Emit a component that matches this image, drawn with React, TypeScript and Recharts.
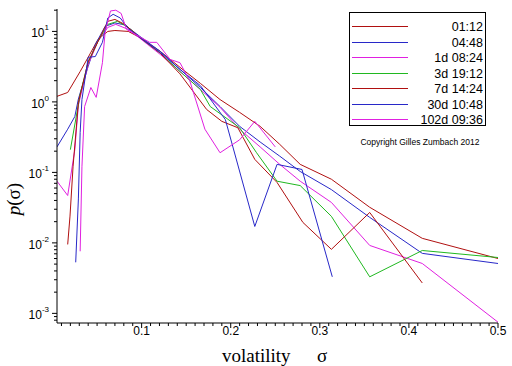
import React from "react";
import { LineChart, Line, XAxis, YAxis } from "recharts";

// Sampling horizons shown in the legend, top to bottom.
const SERIES_NAMES = ["01:12", "04:48", "1d 08:24", "3d 19:12", "7d 14:24", "30d 10:48", "102d 09:36"];
const SERIES_COLORS = ["#b01010", "#2828c8", "#e020e0", "#20b820", "#b01010", "#2828c8", "#e020e0"];

// volatility (x) and density p(sigma) (y)
const sig0112 = [0.005, 0.017, 0.031, 0.04, 0.051, 0.062, 0.07, 0.085, 0.098, 0.121, 0.143, 0.166, 0.188, 0.21, 0.233, 0.255, 0.278, 0.313, 0.356, 0.415, 0.5];
const p0112 = [1.2, 1.36, 2.7, 4.3, 7.7, 10, 10.3, 10, 8.2, 5.2, 3.1, 1.83, 1.08, 0.71, 0.45, 0.25, 0.13, 0.08, 0.032, 0.0116, 0.006];

const sig0448 = [0.005, 0.017, 0.025, 0.029, 0.04, 0.048, 0.059, 0.07, 0.081, 0.098, 0.121, 0.143, 0.166, 0.188, 0.21, 0.233, 0.255, 0.278, 0.313, 0.356, 0.415, 0.5];
const p0448 = [0.23, 0.41, 0.62, 1.1, 3.2, 6.5, 11.8, 13.2, 12.4, 8.5, 5.2, 2.9, 1.6, 0.86, 0.45, 0.27, 0.17, 0.103, 0.057, 0.023, 0.0071, 0.0051];

const sig1d = [0.005, 0.017, 0.025, 0.029, 0.04, 0.051, 0.062, 0.071, 0.085, 0.098, 0.121, 0.143, 0.166, 0.188, 0.21, 0.233, 0.255, 0.278, 0.313, 0.356, 0.415, 0.5];
const p1d = [0.075, 0.047, 0.21, 0.9, 3.4, 7.2, 11.4, 12.6, 10.7, 8.0, 4.7, 2.7, 1.5, 0.84, 0.41, 0.23, 0.13, 0.075, 0.0375, 0.0092, 0.0051, 0.00075];

const sig3d = [0.02, 0.031, 0.04, 0.051, 0.062, 0.073, 0.085, 0.098, 0.121, 0.143, 0.166, 0.177, 0.21, 0.229, 0.252, 0.278, 0.313, 0.356, 0.415, 0.5];
const p3d = [0.21, 1.28, 3.7, 7.2, 12.6, 13.9, 11.4, 8.2, 4.9, 2.7, 1.5, 0.86, 0.43, 0.19, 0.075, 0.065, 0.0238, 0.0033, 0.0078, 0.0062];

const sig7d = [0.017, 0.0196, 0.023, 0.029, 0.04, 0.051, 0.062, 0.07, 0.081, 0.098, 0.121, 0.143, 0.173, 0.19, 0.208, 0.227, 0.252, 0.281, 0.313, 0.356, 0.415];
const p7d = [0.0095, 0.024, 0.12, 0.98, 3.7, 7.2, 13.9, 14.8, 12.6, 8.2, 4.9, 2.5, 0.78, 0.53, 0.43, 0.153, 0.072, 0.0195, 0.0081, 0.027, 0.0027];

const sig30d = [0.026, 0.029, 0.031, 0.033, 0.04, 0.048, 0.056, 0.062, 0.068, 0.076, 0.085, 0.098, 0.121, 0.143, 0.166, 0.194, 0.227, 0.252, 0.28, 0.314];
const p30d = [0.0053, 0.042, 0.37, 1.08, 4.3, 4.4, 7.0, 15.5, 17.5, 15.5, 11, 8.2, 5.0, 2.9, 1.7, 0.56, 0.0171, 0.13, 0.11, 0.0033];

const sig102d = [0.031, 0.033, 0.036, 0.043, 0.049, 0.056, 0.059, 0.065, 0.071, 0.077, 0.083, 0.109, 0.117, 0.132, 0.143, 0.154, 0.171, 0.188, 0.21, 0.227, 0.25];
const p102d = [0.0076, 0.12, 0.86, 1.6, 1.16, 3.6, 9.7, 19.5, 20, 18, 10.7, 7.0, 7.0, 4.0, 3.6, 2.0, 0.41, 0.19, 0.29, 0.53, 0.23];

// axis ticks
const X_MAJOR = [0.1, 0.2, 0.3, 0.4, 0.5];
const Y_DECADES = [-4, -3, -2, -1, 0, 1];

const X_DOMAIN: [number, number] = [0.005, 0.5];
const Y_DOMAIN: [number, number] = [0.00073, 20.8];

const SIGS = [sig0112, sig0448, sig1d, sig3d, sig7d, sig30d, sig102d];
const PS = [p0112, p0448, p1d, p3d, p7d, p30d, p102d];

const series = SERIES_NAMES.map((name, k) => ({
  name,
  color: SERIES_COLORS[k],
  data: SIGS[k].map((s, i) => ({ s, p: PS[k][i] })),
}));

const xTicks: number[] = [];
for (let i = 1; i <= 50; i++) xTicks.push(i / 100);

const yTicks: number[] = [];
Y_DECADES.forEach((d) => {
  for (let m = 1; m <= 9; m++) {
    const v = m * Math.pow(10, d);
    if (v >= Y_DOMAIN[0] && v <= Y_DOMAIN[1]) yTicks.push(v);
  }
});

const SANS = "'Liberation Sans', Arial, sans-serif";
const SERIF = "'Liberation Serif', 'Times New Roman', serif";

function XTick(props: any) {
  const { x, y, payload } = props;
  const v = payload.value as number;
  const major = X_MAJOR.some((m) => Math.abs(m - v) < 1e-6);
  return (
    <g>
      <line x1={x} x2={x} y1={y} y2={y + (major ? 5 : 3)} stroke="#000" />
      {major && (
        <text x={x} y={y + 12} textAnchor="middle" fontFamily={SANS} fontSize={12} fill="#000">
          {v.toFixed(1)}
        </text>
      )}
    </g>
  );
}

function YTick(props: any) {
  const { x, y, payload } = props;
  const v = payload.value as number;
  const lg = Math.log10(v);
  const e = Math.round(lg);
  const major = Math.abs(lg - e) < 1e-6;
  return (
    <g>
      <line x1={x} x2={x - (major ? 5 : 3)} y1={y} y2={y} stroke="#000" />
      {major && (
        <text x={x - 8} y={y + 6} textAnchor="end" fontFamily={SANS} fontSize={12} fill="#000">
          10
          <tspan dy={-7} fontSize={8}>
            {e < 0 ? "-" + Math.abs(e) : String(e)}
          </tspan>
        </text>
      )}
    </g>
  );
}

export default function App() {
  return (
    <div style={{ position: "absolute", left: 0, top: 0, width: 512, height: 366, background: "#fff" }}>
      <LineChart width={512} height={366} margin={{ top: 9, right: 14, bottom: 0, left: 0 }}>
        <XAxis
          type="number"
          dataKey="s"
          domain={X_DOMAIN}
          allowDataOverflow
          ticks={xTicks}
          interval={0}
          tickSize={0}
          tickMargin={0}
          tickLine={false}
          tick={<XTick />}
          axisLine={{ stroke: "#000" }}
          height={43}
        />
        <YAxis
          type="number"
          scale="log"
          domain={Y_DOMAIN}
          allowDataOverflow
          ticks={yTicks}
          interval={0}
          tickSize={0}
          tickMargin={0}
          tickLine={false}
          tick={<YTick />}
          axisLine={{ stroke: "#000" }}
          width={57}
        />
        {series.map((s) => (
          <Line
            key={s.name}
            data={s.data}
            dataKey="p"
            name={s.name}
            stroke={s.color}
            strokeWidth={1}
            dot={false}
            activeDot={false}
            type="linear"
            isAnimationActive={false}
          />
        ))}
      </LineChart>
      <svg
        width={512}
        height={366}
        style={{ position: "absolute", left: 0, top: 0, pointerEvents: "none" }}
      >
        {/* legend box */}
        <rect x={349.5} y={12.5} width={136} height={113} fill="#fff" stroke="#000" />
        {series.map((s, i) => {
          const yy = Math.round(26 + i * 15.5) + 0.5;
          return (
            <g key={s.name}>
              <line x1={352} x2={408} y1={yy} y2={yy} stroke={s.color} />
              <text x={483} y={yy + 4} textAnchor="end" fontFamily={SANS} fontSize={12.5} fill="#000">
                {s.name}
              </text>
            </g>
          );
        })}
        <text x={420} y={145} textAnchor="middle" fontFamily={SANS} fontSize={8.5} fill="#000">
          Copyright Gilles Zumbach 2012
        </text>
        {/* axis titles */}
        <text x={222} y={362} fontFamily={SERIF} fontSize={19} fill="#000">
          volatility
        </text>
        <text x={317} y={362} fontFamily={SERIF} fontSize={19} fill="#000">
          σ
        </text>
        <text
          x={20}
          y={199}
          transform="rotate(-90 20 199)"
          textAnchor="middle"
          fontFamily={SERIF}
          fontSize={19}
          fill="#000"
        >
          <tspan fontStyle="italic">p</tspan>(σ)
        </text>
      </svg>
    </div>
  );
}
